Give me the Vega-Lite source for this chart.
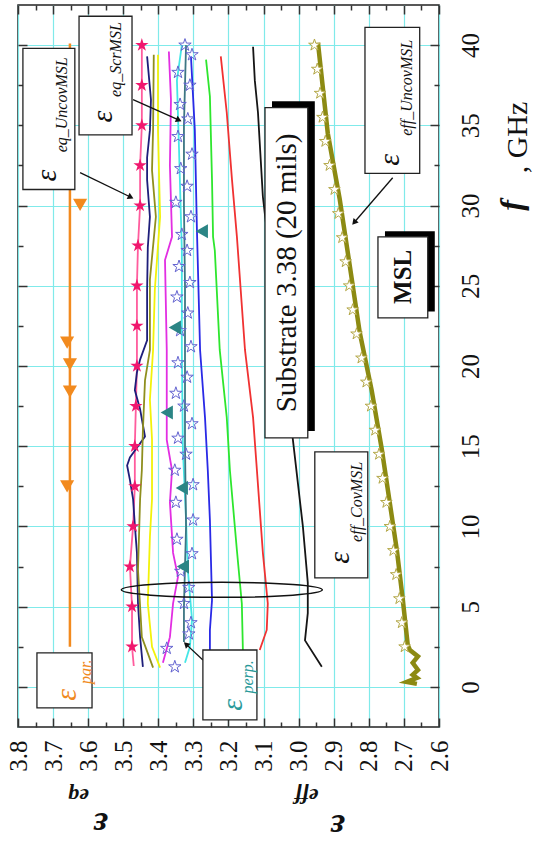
{
"$schema": "https://vega.github.io/schema/vega-lite/v6.json",
"width": 421, "height": 722,
"autosize": {"type": "none"},
"padding": {"left": 18, "top": 5, "right": 100, "bottom": 121},
"background": "white",
"config": {"aria": false, "view": {"stroke": "#222", "strokeWidth": 1.5}, "font": "Liberation Serif"},
"datasets": {
"lines": [
{"s":"ucov","f":40,"eps":3.447},{"s":"ucov","f":37.5,"eps":3.447},{"s":"ucov","f":35,"eps":3.447},{"s":"ucov","f":32.5,"eps":3.452},{"s":"ucov","f":30,"eps":3.452},{"s":"ucov","f":27.5,"eps":3.458},{"s":"ucov","f":25,"eps":3.461},{"s":"ucov","f":22.5,"eps":3.461},{"s":"ucov","f":20,"eps":3.461},{"s":"ucov","f":17.5,"eps":3.464},{"s":"ucov","f":15,"eps":3.467},{"s":"ucov","f":12.5,"eps":3.467},{"s":"ucov","f":10,"eps":3.472},{"s":"ucov","f":7.5,"eps":3.481},{"s":"ucov","f":5,"eps":3.475},{"s":"ucov","f":2.5,"eps":3.475},{"s":"ucov","f":1.3,"eps":3.47},
{"s":"navy","f":39.3,"eps":3.432},{"s":"navy","f":36.6,"eps":3.421},{"s":"navy","f":34.7,"eps":3.424},{"s":"navy","f":33.0,"eps":3.432},{"s":"navy","f":31.6,"eps":3.432},{"s":"navy","f":29.3,"eps":3.424},{"s":"navy","f":27.4,"eps":3.430},{"s":"navy","f":24.75,"eps":3.432},{"s":"navy","f":21.6,"eps":3.432},{"s":"navy","f":20.4,"eps":3.452},{"s":"navy","f":19.6,"eps":3.461},{"s":"navy","f":18.5,"eps":3.467},{"s":"navy","f":17.3,"eps":3.452},{"s":"navy","f":15.6,"eps":3.438},{"s":"navy","f":15.0,"eps":3.458},{"s":"navy","f":14.3,"eps":3.481},{"s":"navy","f":13.8,"eps":3.489},{"s":"navy","f":12.9,"eps":3.481},{"s":"navy","f":11.7,"eps":3.472},{"s":"navy","f":10.1,"eps":3.467},{"s":"navy","f":8.35,"eps":3.461},{"s":"navy","f":5.2,"eps":3.458},{"s":"navy","f":3.1,"eps":3.452},{"s":"navy","f":1.25,"eps":3.444},
{"s":"olv","f":39.4,"eps":3.413},{"s":"olv","f":34.7,"eps":3.415},{"s":"olv","f":32.2,"eps":3.418},{"s":"olv","f":29.3,"eps":3.407},{"s":"olv","f":25.4,"eps":3.424},{"s":"olv","f":21.0,"eps":3.424},{"s":"olv","f":19.1,"eps":3.438},{"s":"olv","f":16.0,"eps":3.444},{"s":"olv","f":13.5,"eps":3.447},{"s":"olv","f":11.7,"eps":3.452},{"s":"olv","f":7.3,"eps":3.458},{"s":"olv","f":3.1,"eps":3.447},{"s":"olv","f":1.2,"eps":3.415},
{"s":"yel","f":39.4,"eps":3.401},{"s":"yel","f":34.7,"eps":3.401},{"s":"yel","f":29.3,"eps":3.395},{"s":"yel","f":24.75,"eps":3.410},{"s":"yel","f":21.0,"eps":3.415},{"s":"yel","f":17.9,"eps":3.424},{"s":"yel","f":15.4,"eps":3.418},{"s":"yel","f":11.7,"eps":3.418},{"s":"yel","f":9.35,"eps":3.424},{"s":"yel","f":5.2,"eps":3.430},{"s":"yel","f":2.5,"eps":3.418},{"s":"yel","f":1.2,"eps":3.395},
{"s":"mag","f":39.6,"eps":3.370},{"s":"mag","f":36.6,"eps":3.364},{"s":"mag","f":32.5,"eps":3.367},{"s":"mag","f":28.05,"eps":3.361},{"s":"mag","f":26.6,"eps":3.381},{"s":"mag","f":21.0,"eps":3.376},{"s":"mag","f":15.4,"eps":3.376},{"s":"mag","f":13.5,"eps":3.361},{"s":"mag","f":11.5,"eps":3.367},{"s":"mag","f":8.35,"eps":3.358},{"s":"mag","f":6.86,"eps":3.344},{"s":"mag","f":5.2,"eps":3.358},{"s":"mag","f":3.1,"eps":3.367},{"s":"mag","f":1.5,"eps":3.387},
{"s":"cyan","f":40.0,"eps":3.333},{"s":"cyan","f":37.8,"eps":3.347},{"s":"cyan","f":33.5,"eps":3.341},{"s":"cyan","f":27.2,"eps":3.333},{"s":"cyan","f":21.0,"eps":3.333},{"s":"cyan","f":14.8,"eps":3.330},{"s":"cyan","f":10.4,"eps":3.321},{"s":"cyan","f":7.3,"eps":3.316},{"s":"cyan","f":4.2,"eps":3.304},{"s":"cyan","f":2.5,"eps":3.310},{"s":"cyan","f":1.5,"eps":3.324},
{"s":"scr","f":40.0,"eps":3.321},{"s":"scr","f":35,"eps":3.327},{"s":"scr","f":30,"eps":3.327},{"s":"scr","f":25,"eps":3.324},{"s":"scr","f":20,"eps":3.324},{"s":"scr","f":15,"eps":3.324},{"s":"scr","f":10,"eps":3.321},{"s":"scr","f":5,"eps":3.327},{"s":"scr","f":2.8,"eps":3.327},
{"s":"blue","f":39.3,"eps":3.307},{"s":"blue","f":34.7,"eps":3.296},{"s":"blue","f":28.5,"eps":3.290},{"s":"blue","f":21.0,"eps":3.281},{"s":"blue","f":16.8,"eps":3.267},{"s":"blue","f":13.5,"eps":3.259},{"s":"blue","f":10.4,"eps":3.253},{"s":"blue","f":5.4,"eps":3.247},{"s":"blue","f":3.55,"eps":3.253},{"s":"blue","f":2.0,"eps":3.253},
{"s":"green","f":39.1,"eps":3.264},{"s":"green","f":36.8,"eps":3.253},{"s":"green","f":31.6,"eps":3.247},{"s":"green","f":28.05,"eps":3.244},{"s":"green","f":27.2,"eps":3.239},{"s":"green","f":21.0,"eps":3.225},{"s":"green","f":16.8,"eps":3.205},{"s":"green","f":13.5,"eps":3.196},{"s":"green","f":8.5,"eps":3.176},{"s":"green","f":5.2,"eps":3.162},{"s":"green","f":2.3,"eps":3.159},
{"s":"red","f":39.3,"eps":3.222},{"s":"red","f":35.8,"eps":3.205},{"s":"red","f":31.6,"eps":3.190},{"s":"red","f":28.05,"eps":3.176},{"s":"red","f":21.0,"eps":3.153},{"s":"red","f":16.8,"eps":3.130},{"s":"red","f":13.5,"eps":3.119},{"s":"red","f":8.35,"eps":3.102},{"s":"red","f":5.2,"eps":3.088},{"s":"red","f":3.55,"eps":3.091},{"s":"red","f":2.3,"eps":3.111},
{"s":"black","f":39.9,"eps":3.130},{"s":"black","f":37.8,"eps":3.125},{"s":"black","f":35.8,"eps":3.116},{"s":"black","f":30.55,"eps":3.102},{"s":"black","f":24.1,"eps":3.068},{"s":"black","f":17.9,"eps":3.034},{"s":"black","f":15.5,"eps":3.017},{"s":"black","f":10.0,"eps":2.988},{"s":"black","f":6.5,"eps":2.974},{"s":"black","f":4.6,"eps":2.974},{"s":"black","f":2.9,"eps":2.982},{"s":"black","f":1.25,"eps":2.934}
],
"parline": [{"f":2.5,"eps":3.652},{"f":40.1,"eps":3.652}],
"effu": [
{"f":40.15,"eps":2.945},{"f":34.5,"eps":2.917},{"f":30.4,"eps":2.883},{"f":26.2,"eps":2.854},{"f":22.1,"eps":2.826},{"f":18.5,"eps":2.792},{"f":14.8,"eps":2.763},{"f":8.5,"eps":2.720},{"f":5.4,"eps":2.703},{"f":2.6,"eps":2.689},{"f":2.3,"eps":2.683},{"f":1.9,"eps":2.660},{"f":1.5,"eps":2.675},{"f":1.06,"eps":2.660},{"f":0.75,"eps":2.675},{"f":0.56,"eps":2.663},{"f":0.31,"eps":2.692},{"f":0.19,"eps":2.663}
],
"effstars": [
{"f":40,"eps":2.955},{"f":38.5,"eps":2.947},{"f":37,"eps":2.939},{"f":35.5,"eps":2.932},{"f":34,"eps":2.924},{"f":32.5,"eps":2.912},{"f":31,"eps":2.898},{"f":29.5,"eps":2.887},{"f":28,"eps":2.876},{"f":26.5,"eps":2.866},{"f":25,"eps":2.856},{"f":23.5,"eps":2.846},{"f":22,"eps":2.835},{"f":20.5,"eps":2.821},{"f":19,"eps":2.807},{"f":17.5,"eps":2.794},{"f":16,"eps":2.782},{"f":14.5,"eps":2.771},{"f":13,"eps":2.761},{"f":11.5,"eps":2.750},{"f":10,"eps":2.740},{"f":8.5,"eps":2.730},{"f":7,"eps":2.722},{"f":5.5,"eps":2.713},{"f":4,"eps":2.706},{"f":2.5,"eps":2.698}
],
"scrstars": [
{"f":40.0,"eps":3.324},{"f":39.4,"eps":3.304},{"f":38.3,"eps":3.344},{"f":37.5,"eps":3.310},{"f":36.3,"eps":3.338},{"f":35.4,"eps":3.316},{"f":34.3,"eps":3.344},{"f":33.2,"eps":3.304},{"f":32.3,"eps":3.336},{"f":31.2,"eps":3.318},{"f":30.2,"eps":3.350},{"f":29.3,"eps":3.307},{"f":28.2,"eps":3.333},{"f":27.2,"eps":3.318},{"f":26.2,"eps":3.341},{"f":25.2,"eps":3.310},{"f":24.3,"eps":3.347},{"f":23.3,"eps":3.316},{"f":22.2,"eps":3.338},{"f":21.2,"eps":3.307},{"f":20.2,"eps":3.344},{"f":19.3,"eps":3.318},{"f":18.3,"eps":3.350},{"f":17.5,"eps":3.327},{"f":16.4,"eps":3.304},{"f":15.5,"eps":3.344},{"f":14.5,"eps":3.321},{"f":13.5,"eps":3.353},{"f":12.6,"eps":3.301},{"f":11.5,"eps":3.350},{"f":10.4,"eps":3.301},{"f":9.2,"eps":3.347},{"f":8.3,"eps":3.304},{"f":7.2,"eps":3.336},{"f":6.2,"eps":3.313},{"f":5.2,"eps":3.327},{"f":4.0,"eps":3.307},{"f":3.3,"eps":3.313},{"f":2.4,"eps":3.376},{"f":1.25,"eps":3.353}
],
"pinkstars": [
{"f":40,"eps":3.447},{"f":37.5,"eps":3.447},{"f":35,"eps":3.447},{"f":32.5,"eps":3.452},{"f":30,"eps":3.452},{"f":27.5,"eps":3.458},{"f":25,"eps":3.461},{"f":22.5,"eps":3.461},{"f":20,"eps":3.461},{"f":17.5,"eps":3.464},{"f":15,"eps":3.467},{"f":12.5,"eps":3.467},{"f":10,"eps":3.472},{"f":7.5,"eps":3.481},{"f":5,"eps":3.475},{"f":2.5,"eps":3.475}
],
"partri": [
{"f":30.05,"eps":3.623},{"f":21.45,"eps":3.660},{"f":20.1,"eps":3.652},{"f":18.4,"eps":3.652},{"f":12.5,"eps":3.660}
],
"perptri": [
{"f":28.4,"eps":3.276},{"f":22.4,"eps":3.353},{"f":17.1,"eps":3.376},{"f":12.4,"eps":3.333},{"f":7.5,"eps":3.330}
],
"ellipse": [{"f":6.05,"eps":3.219}],
"arrows": [
{"eps":3.623,"f":32.05,"eps2":3.481,"f2":30.55,"dir":116},
{"eps":3.472,"f":36.6,"eps2":3.344,"f2":35.35,"dir":114},
{"eps":2.732,"f":31.73,"eps2":2.840,"f2":28.99,"dir":221},
{"eps":3.273,"f":1.68,"eps2":3.319,"f2":2.62,"dir":313}
],
"shadows": [
{"xa":3.076,"xb":2.954,"ya":36.5,"yb":15.95},
{"xa":2.754,"xb":2.612,"ya":28.4,"yb":23.4}
],
"boxes": [
{"xa":3.786,"xb":3.638,"ya":39.8,"yb":31.0},
{"xa":3.626,"xb":3.475,"ya":41.8,"yb":34.4},
{"xa":3.746,"xb":3.589,"ya":2.12,"yb":-1.31},
{"xa":3.273,"xb":3.119,"ya":2.3,"yb":-2.06},
{"xa":3.096,"xb":2.974,"ya":36.1,"yb":15.52},
{"xa":2.774,"xb":2.632,"ya":28.05,"yb":23.0},
{"xa":2.811,"xb":2.655,"ya":41.1,"yb":32.0},
{"xa":2.954,"xb":2.803,"ya":14.65,"yb":6.8}
],
"glyphs": [
{"lab":"eqU","t":"ε","eps":3.717,"f":31.86},
{"lab":"eqS","t":"ε","eps":3.558,"f":35.54},
{"lab":"par","t":"ε","eps":3.660,"f":-0.5},
{"lab":"perp","t":"ε","eps":3.187,"f":-1.12},
{"lab":"effU","t":"ε","eps":2.740,"f":32.85},
{"lab":"effC","t":"ε","eps":2.883,"f":8.04}
],
"subs": [
{"lab":"eqU","t":"eq_UncovMSL","eps":3.675,"f":36.28},
{"lab":"eqS","t":"eq_ScrMSL","eps":3.521,"f":39.1},
{"lab":"par","t":"par.","eps":3.606,"f":0.94},
{"lab":"perp","t":"perp.","eps":3.145,"f":0.62},
{"lab":"effU","t":"eff_UncovMSL","eps":2.692,"f":37.34},
{"lab":"effC","t":"eff_CovMSL","eps":2.834,"f":11.53}
],
"subtext": [{"t":"Substrate 3.38 (20 mils)","eps":3.034,"f":25.8}],
"msltext": [{"t":"MSL","eps":2.703,"f":25.56}]
},
"layer": [
{"data":{"name":"lines"},"mark":{"type":"line","strokeWidth":1.8},
 "encoding":{
  "x":{"field":"eps","type":"quantitative","scale":{"domain":[2.6,3.8],"reverse":true,"nice":false,"zero":false},
   "axis":{"orient":"bottom","values":[2.6,2.7,2.8,2.9,3.0,3.1,3.2,3.3,3.4,3.5,3.6,3.7,3.8],"labelExpr":"format(datum.value,'.1f')","labelAngle":270,"labelAlign":"right","labelBaseline":"middle","labelFont":"Liberation Serif","labelFontSize":25,"labelColor":"#111","labelPadding":22,"labelFlush":false,"labelOverlap":false,"tickSize":-9,"tickColor":"#333","tickWidth":1.5,"domain":false,"grid":true,"gridColor":"#80eaea","gridWidth":1.2,
    "title":"ε","titleFont":"Liberation Serif","titleFontSize":36,"titleFontWeight":"bold","titleFontStyle":"italic","titleAngle":180,"titleX":82,"titleY":96,"titleAlign":"center","titleBaseline":"middle","titleColor":"#111"}},
  "y":{"field":"f","type":"quantitative","scale":{"domain":[-2.5,42.5],"nice":false,"zero":false},
   "axis":{"orient":"right","values":[0,5,10,15,20,25,30,35,40],"labelAngle":270,"labelAlign":"center","labelBaseline":"top","labelFont":"Liberation Serif","labelFontSize":25,"labelColor":"#111","labelPadding":28,"labelFlush":false,"labelOverlap":false,"tickSize":-9,"tickColor":"#333","tickWidth":1.5,"domain":false,"grid":true,"gridColor":"#80eaea","gridWidth":1.2,
    "title":", GHz","titleFont":"Liberation Serif","titleFontSize":30,"titleFontWeight":"normal","titleAngle":270,"titleX":78,"titleY":132,"titleAlign":"center","titleBaseline":"middle","titleColor":"#111"}},
  "order":{"field":"f","type":"quantitative"},
  "color":{"field":"s","type":"nominal","legend":null,"scale":{"domain":["ucov","navy","olv","yel","mag","cyan","scr","blue","green","red","black"],"range":["#ff5c9d","#1e1e7a","#8f8f1e","#f2f20a","#e22ee2","#45e6e6","#3d7683","#2a2ae6","#2ee62e","#f03232","#151515"]}}
 }},
{"data":{"name":"parline"},"mark":{"type":"line","strokeWidth":2.5,"color":"#f28a1e"},
 "encoding":{"x":{"field":"eps","type":"quantitative","axis":null},"y":{"field":"f","type":"quantitative","axis":null},"order":{"field":"f","type":"quantitative"}}},
{"data":{"name":"effu"},"mark":{"type":"line","strokeWidth":4.5,"color":"#8c8a12"},
 "encoding":{
  "x":{"field":"eps","type":"quantitative","axis":{"orient":"top","values":[2.6,2.7,2.8,2.9,3.0,3.1,3.2,3.3,3.4,3.5,3.6,3.7,3.8],"labels":false,"tickSize":-9,"tickColor":"#333","tickWidth":1.5,"domain":false,"grid":false,"title":null}},
  "y":{"field":"f","type":"quantitative","axis":{"orient":"left","values":[0,5,10,15,20,25,30,35,40],"labels":false,"tickSize":-9,"tickColor":"#333","tickWidth":1.5,"domain":false,"grid":false,"title":null}},
  "order":{"field":"f","type":"quantitative"}
 }},
{"data":{"name":"effstars"},"mark":{"type":"point","shape":"M0,-1L0.2245,-0.309L0.951,-0.309L0.363,0.118L0.588,0.809L0,0.382L-0.588,0.809L-0.363,0.118L-0.951,-0.309L-0.2245,-0.309Z","filled":true,"fill":"white","stroke":"#b4a848","strokeWidth":1,"size":150,"opacity":1},
 "encoding":{
  "x":{"field":"eps","type":"quantitative","axis":{"orient":"top","values":[2.65,2.75,2.85,2.95,3.05,3.15,3.25,3.35,3.45,3.55,3.65,3.75],"labels":false,"tickSize":-5,"tickColor":"#333","tickWidth":1.5,"domain":false,"grid":false,"title":null}},
  "y":{"field":"f","type":"quantitative","axis":{"orient":"left","values":[2.5,7.5,12.5,17.5,22.5,27.5,32.5,37.5],"labels":false,"tickSize":-5,"tickColor":"#333","tickWidth":1.5,"domain":false,"grid":false,"title":null}}
 }},
{"data":{"name":"scrstars"},"mark":{"type":"point","shape":"M0,-1L0.2245,-0.309L0.951,-0.309L0.363,0.118L0.588,0.809L0,0.382L-0.588,0.809L-0.363,0.118L-0.951,-0.309L-0.2245,-0.309Z","filled":false,"stroke":"#6464d0","strokeWidth":1,"size":170,"opacity":1},
 "encoding":{
  "x":{"field":"eps","type":"quantitative","axis":{"orient":"bottom","values":[2.65,2.75,2.85,2.95,3.05,3.15,3.25,3.35,3.45,3.55,3.65,3.75],"labels":false,"tickSize":-5,"tickColor":"#333","tickWidth":1.5,"domain":false,"grid":false,
    "title":"eq","titleFont":"Liberation Serif","titleFontSize":22,"titleFontWeight":"bold","titleFontStyle":"italic","titleAngle":180,"titleX":60,"titleY":68,"titleAlign":"center","titleBaseline":"middle","titleColor":"#111"}},
  "y":{"field":"f","type":"quantitative","axis":{"orient":"right","values":[2.5,7.5,12.5,17.5,22.5,27.5,32.5,37.5],"labels":false,"tickSize":-5,"tickColor":"#333","tickWidth":1.5,"domain":false,"grid":false,
    "title":"f","titleFont":"Liberation Serif","titleFontSize":32,"titleFontWeight":"bold","titleFontStyle":"italic","titleAngle":270,"titleX":72,"titleY":200,"titleAlign":"center","titleBaseline":"middle","titleColor":"#111"}}
 }},
{"data":{"name":"pinkstars"},"mark":{"type":"point","shape":"M0,-1L0.2245,-0.309L0.951,-0.309L0.363,0.118L0.588,0.809L0,0.382L-0.588,0.809L-0.363,0.118L-0.951,-0.309L-0.2245,-0.309Z","filled":true,"color":"#f0186e","size":196,"opacity":1},
 "encoding":{
  "x":{"field":"eps","type":"quantitative","axis":{"orient":"bottom","labels":false,"ticks":false,"domain":false,"grid":false,
    "title":"ε","titleFont":"Liberation Serif","titleFontSize":36,"titleFontWeight":"bold","titleFontStyle":"italic","titleAngle":180,"titleX":319,"titleY":98,"titleAlign":"center","titleBaseline":"middle","titleColor":"#111"}},
  "y":{"field":"f","type":"quantitative","axis":null}
 }},
{"data":{"name":"partri"},"mark":{"type":"point","shape":"triangle-down","filled":true,"color":"#f28a1e","size":200,"opacity":1},
 "encoding":{
  "x":{"field":"eps","type":"quantitative","axis":{"orient":"bottom","labels":false,"ticks":false,"domain":false,"grid":false,
    "title":"eff","titleFont":"Liberation Serif","titleFontSize":22,"titleFontWeight":"bold","titleFontStyle":"italic","titleAngle":180,"titleX":288,"titleY":68,"titleAlign":"center","titleBaseline":"middle","titleColor":"#111"}},
  "y":{"field":"f","type":"quantitative","axis":null}
 }},
{"data":{"name":"perptri"},"mark":{"type":"point","shape":"triangle-left","filled":true,"color":"#2b8585","size":200,"opacity":1},
 "encoding":{"x":{"field":"eps","type":"quantitative","axis":null},"y":{"field":"f","type":"quantitative","axis":null}}},
{"data":{"name":"ellipse"},"mark":{"type":"point","shape":"M-1,0 C-1,0.0414 -0.552,0.075 0,0.075 C0.552,0.075 1,0.0414 1,0 C1,-0.0414 0.552,-0.075 0,-0.075 C-0.552,-0.075 -1,-0.0414 -1,0 Z","filled":false,"stroke":"#111","strokeWidth":1.5,"size":40401,"opacity":1},
 "encoding":{"x":{"field":"eps","type":"quantitative","axis":null},"y":{"field":"f","type":"quantitative","axis":null}}},
{"data":{"name":"arrows"},"mark":{"type":"rule","color":"#111","strokeWidth":1.3},
 "encoding":{"x":{"field":"eps","type":"quantitative","axis":null},"y":{"field":"f","type":"quantitative","axis":null},"x2":{"field":"eps2"},"y2":{"field":"f2"}}},
{"data":{"name":"arrows"},"mark":{"type":"point","shape":"triangle","filled":true,"color":"#111","size":45,"opacity":1},
 "encoding":{"x":{"field":"eps2","type":"quantitative","axis":null},"y":{"field":"f2","type":"quantitative","axis":null},"angle":{"field":"dir","type":"quantitative","scale":null}}},
{"data":{"name":"shadows"},"mark":{"type":"rect","color":"#000"},
 "encoding":{"x":{"field":"xa","type":"quantitative","axis":null},"x2":{"field":"xb"},"y":{"field":"ya","type":"quantitative","axis":null},"y2":{"field":"yb"}}},
{"data":{"name":"boxes"},"mark":{"type":"rect","fill":"white","stroke":"#222","strokeWidth":1.3},
 "encoding":{"x":{"field":"xa","type":"quantitative","axis":null},"x2":{"field":"xb"},"y":{"field":"ya","type":"quantitative","axis":null},"y2":{"field":"yb"}}},
{"data":{"name":"glyphs"},"mark":{"type":"text","font":"Liberation Serif","fontStyle":"italic","fontSize":30,"angle":270,"align":"center","baseline":"middle"},
 "encoding":{"x":{"field":"eps","type":"quantitative","axis":null},"y":{"field":"f","type":"quantitative","axis":null},"text":{"field":"t"},
  "fill":{"field":"lab","type":"nominal","legend":null,"scale":{"domain":["eqU","eqS","par","perp","effU","effC"],"range":["#111","#111","#f08a1e","#2a9a9a","#111","#111"]}}}},
{"data":{"name":"subs"},"mark":{"type":"text","font":"Liberation Serif","fontStyle":"italic","fontSize":16,"angle":270,"align":"center","baseline":"middle"},
 "encoding":{"x":{"field":"eps","type":"quantitative","axis":null},"y":{"field":"f","type":"quantitative","axis":null},"text":{"field":"t"},
  "fill":{"field":"lab","type":"nominal","legend":null,"scale":{"domain":["eqU","eqS","par","perp","effU","effC"],"range":["#111","#111","#f08a1e","#2a9a9a","#111","#111"]}}}},
{"data":{"name":"subtext"},"mark":{"type":"text","font":"Liberation Serif","fontSize":29,"angle":270,"align":"center","baseline":"middle","color":"#111"},
 "encoding":{"x":{"field":"eps","type":"quantitative","axis":null},"y":{"field":"f","type":"quantitative","axis":null},"text":{"field":"t"}}},
{"data":{"name":"msltext"},"mark":{"type":"text","font":"Liberation Serif","fontSize":25,"fontWeight":"bold","angle":270,"align":"center","baseline":"middle","color":"#111"},
 "encoding":{"x":{"field":"eps","type":"quantitative","axis":null},"y":{"field":"f","type":"quantitative","axis":null},"text":{"field":"t"}}}
],
"resolve":{"axis":{"x":"independent","y":"independent"}}
}
